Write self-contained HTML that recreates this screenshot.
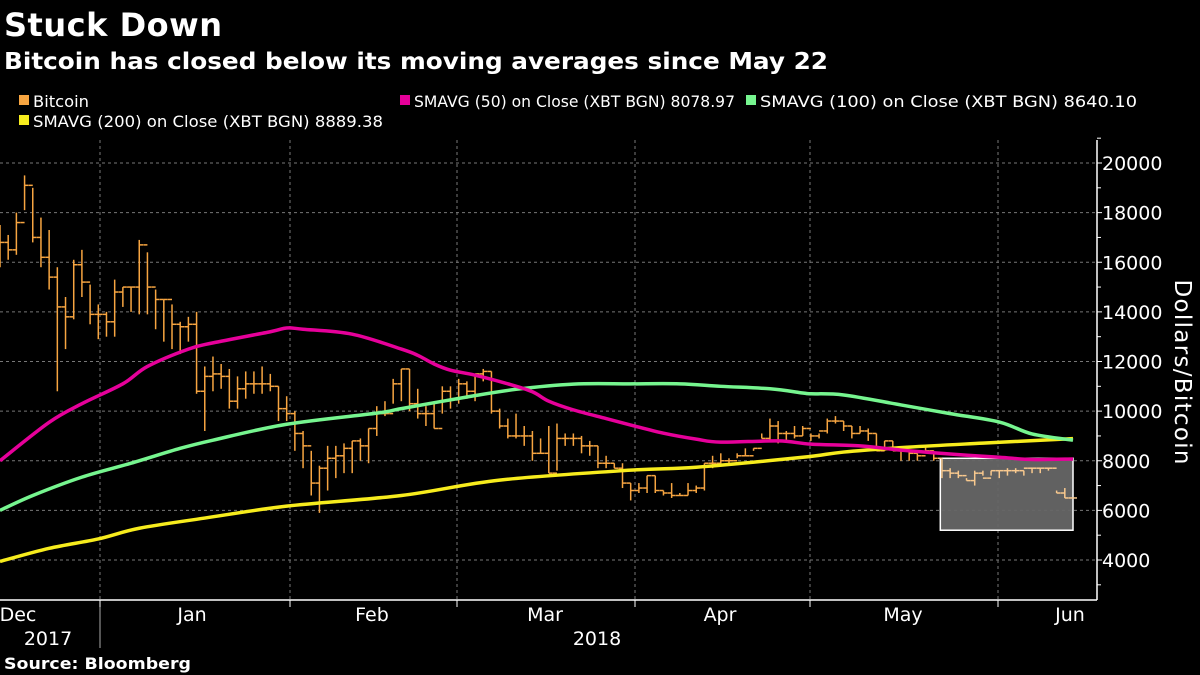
<!DOCTYPE html>
<html><head><meta charset="utf-8"><style>
body{margin:0;background:#000;width:1200px;height:675px;overflow:hidden;font-family:"DejaVu Sans","Liberation Sans",sans-serif;color:#fff}
svg{position:absolute;left:0;top:0}
</style></head><body>
<svg id="chart" width="1200" height="675">
<text x="4" y="36" font-size="32" font-weight="bold" fill="#fff" textLength="218">Stuck Down</text>
<text x="4" y="69" font-size="23" font-weight="bold" fill="#fff" textLength="824" lengthAdjust="spacingAndGlyphs">Bitcoin has closed below its moving averages since May 22</text>
<g font-size="16" fill="#fff">
<g><rect x="19" y="95" width="10" height="10" fill="#f7a541"/><text x="33" y="107" textLength="56" lengthAdjust="spacingAndGlyphs">Bitcoin</text></g>
<g><rect x="400" y="95" width="10" height="10" fill="#e6009a"/><text x="414" y="107" textLength="321" lengthAdjust="spacingAndGlyphs">SMAVG (50) on Close (XBT BGN) 8078.97</text></g>
<g><rect x="746" y="95" width="10" height="10" fill="#76f58f"/><text x="760" y="107" textLength="377" lengthAdjust="spacingAndGlyphs">SMAVG (100) on Close (XBT BGN) 8640.10</text></g>
<g><rect x="19" y="115" width="10" height="10" fill="#f7ec1d"/><text x="33" y="127" textLength="350" lengthAdjust="spacingAndGlyphs">SMAVG (200) on Close (XBT BGN) 8889.38</text></g>
</g>
<g id="grid"></g><g id="box"></g><g id="bars"></g><g id="lines"></g><g id="axes"></g>
<text x="4" y="669" font-size="16" font-weight="bold" fill="#fff" textLength="187" lengthAdjust="spacingAndGlyphs">Source: Bloomberg</text>
</svg>
<script>
const highs=[17500,17100,18000,19500,19000,17800,17300,15800,14600,16100,16500,15100,14300,14000,15300,15000,15000,16900,16400,14900,14500,14300,13600,13800,14000,11800,12200,11900,11700,11400,11600,11600,11800,11500,11000,10600,10000,9200,8400,7800,8600,8600,8700,8800,8900,9300,10200,10400,11300,11700,11700,10900,10200,10300,11000,11000,11300,11200,11500,11700,11600,10100,9700,9900,9400,9200,8900,9400,9500,9100,9100,9000,8800,8600,8200,7900,7900,7100,7100,7400,7400,6800,7100,6700,7100,7000,7900,8200,8300,8100,8300,8500,8500,9100,9700,9600,9200,9400,9400,9100,9100,9700,9800,9600,9400,9400,9300,9100,8800,8800,8400,8400,8300,8600,8400,8100,7700,7600,7300,7600,7600,7600,7600,7700,7700,7600,7700,7700,7700,6800,6900,6500];
const lows=[15800,16100,16300,18100,16800,15800,14900,10800,12500,13700,14600,13500,12900,13000,13000,14200,14000,13900,13900,13300,12800,12500,12300,12800,10700,9200,10800,10900,10100,10100,10500,10700,10700,10800,9600,9600,8400,7700,6600,5900,6800,7300,7500,7500,8000,7900,9000,9800,10300,10400,10000,9700,9400,9300,9900,10100,10300,10500,10400,11200,9900,9300,8900,8900,8600,8000,8300,7500,7600,8600,8600,8300,8200,7700,7700,7700,6900,6400,6700,6700,6700,6600,6500,6600,6600,6700,6800,7700,7800,7800,8100,8200,8400,8900,8800,8700,8800,8900,9000,8800,8900,9100,9500,9200,8900,9100,8800,8400,8400,8400,8000,8000,8000,8300,8000,7300,7300,7300,7200,7000,7400,7400,7300,7400,7500,7400,7500,7500,7600,6700,6500,6500];
const closes=[16800,16500,17600,19100,17000,16200,15400,14200,13800,15900,15200,13900,13900,13600,14800,15000,15000,16700,15000,14500,14500,13500,13400,13500,10800,11400,11500,11400,10400,10900,11100,11100,11100,11000,10100,9900,9100,8600,7100,7700,8100,8200,8500,8800,8600,9300,9900,9900,11100,11700,10300,9900,9900,9300,10800,10500,11100,10800,11500,11600,10000,9400,9000,9000,9000,8300,8300,7500,8900,8900,8900,8600,8600,7900,7900,7700,7100,6800,6900,7400,6800,6700,6600,6600,6800,6900,7900,7900,8000,8000,8200,8200,8500,8900,9400,9100,9100,9000,9300,9000,9200,9600,9600,9400,9100,9200,9100,8400,8800,8400,8400,8300,8200,8400,8100,7600,7500,7400,7200,7500,7300,7600,7600,7600,7600,7700,7700,7700,7700,6700,6500,6500];
const sma50Idx=[0,6,10,15,18,23,26,33,35,37,43,49,51,53,55,58,62,65,67,70,74,77,81,85,88,95,99,105,110,116,122,126,131];
const sma50Val=[8000,9550,10300,11100,11800,12500,12750,13200,13350,13300,13100,12500,12250,11900,11650,11450,11100,10780,10400,10050,9700,9440,9110,8870,8750,8800,8670,8600,8430,8270,8140,8050,8070];
const sma100Idx=[0,4,10,16,22,26,35,46,49,57,63,70,77,83,88,94,98,99,103,110,116,122,126,131];
const sma100Val=[6000,6600,7340,7900,8500,8830,9470,9920,10100,10570,10880,11090,11100,11100,11000,10900,10730,10700,10650,10250,9900,9560,9080,8830];
const sma200Idx=[0,6,12,17,25,35,49,61,77,85,98,103,111,120,131];
const sma200Val=[3940,4470,4850,5280,5690,6170,6600,7220,7620,7740,8140,8350,8550,8710,8890];
const yTicks=[4000,6000,8000,10000,12000,14000,16000,18000,20000];
const months=["Dec","Jan","Feb","Mar","Apr","May","Jun"];
const monthCenters=[18,192,372,545,720,903,1070];
const monthBounds=[100,290,457,635,810,998];
const boxStartIdx=114.8, boxEndIdx=131, boxTop=8100, boxBottom=5200;

const NS="http://www.w3.org/2000/svg";
const N=closes.length, X0=0, X1=1073, AX=1097;
const x=i=>X0+i*(X1-X0)/(N-1);
const y=v=>163+(20000-v)*(560-163)/16000;
function mk(tag,attrs,parent){const e=document.createElementNS(NS,tag);for(const k in attrs)e.setAttribute(k,attrs[k]);parent.appendChild(e);return e;}
const grid=document.getElementById('grid'),axes=document.getElementById('axes'),bars=document.getElementById('bars'),lines=document.getElementById('lines'),box=document.getElementById('box');
yTicks.forEach(v=>{
  const g=mk('line',{x1:0,x2:AX,y1:y(v),y2:y(v),stroke:'#777','stroke-dasharray':'3,3','stroke-width':1},grid);
  
  
  const t=mk('text',{x:AX+5,y:y(v)+7,'font-size':19,fill:'#fff'},axes);t.textContent=v;
  
  
  mk('line',{x1:AX,x2:AX+5,y1:y(v),y2:y(v),stroke:'#fff'},axes);
  mk('line',{x1:AX,x2:AX+4,y1:y(v+1000),y2:y(v+1000),stroke:'#fff'},axes);
});
mk('line',{x1:AX,x2:AX+4,y1:y(3000),y2:y(3000),stroke:'#fff'},axes);
monthBounds.forEach(b=>{
  const g=mk('line',{x1:b,x2:b,y1:140,y2:600,stroke:'#777','stroke-dasharray':'3,3'},grid);
  
  
  mk('line',{x1:b,x2:b,y1:600,y2:607,stroke:'#fff'},axes);
});
months.forEach((m,i)=>{
  const t=mk('text',{x:monthCenters[i],y:621,'font-size':19,fill:'#fff','text-anchor':'middle'},axes);t.textContent=m;
  
  
});
[["2017",48],["2018",597]].forEach(([s,cx])=>{
  const t=mk('text',{x:cx,y:645,'font-size':19,fill:'#fff','text-anchor':'middle'},axes);t.textContent=s;
  
  
});
mk('line',{x1:100,x2:100,y1:607,y2:648,stroke:'#aaa'},axes);
mk('line',{x1:0,x2:AX,y1:600,y2:600,stroke:'#fff','stroke-width':1.5},axes);
mk('line',{x1:AX,x2:AX,y1:140,y2:600,stroke:'#fff','stroke-width':1.5},axes);
const yt=mk('text',{x:0,y:0,'font-size':23,fill:'#fff','text-anchor':'middle',textLength:185,transform:'translate(1175,372) rotate(90)'},axes);
yt.textContent='Dollars/Bitcoin';


const bx=mk('rect',{x:x(boxStartIdx),y:y(boxTop),width:x(boxEndIdx)-x(boxStartIdx),height:y(boxBottom)-y(boxTop),fill:'#666','fill-opacity':0.95,stroke:'#fff','stroke-width':1.5},box);


for(let i=0;i<N;i++){
  const o=i>0?closes[i-1]:closes[i];
  const col=x(i)>=x(boxStartIdx)?'#f9c98e':'#f7a541';
  const g=mk('g',{stroke:col,'stroke-width':1.5},bars);
  
  
  mk('line',{x1:x(i),x2:x(i),y1:y(highs[i]),y2:y(lows[i])},g);
  mk('line',{x1:x(i)-4,x2:x(i),y1:y(o),y2:y(o)},g);
  mk('line',{x1:x(i),x2:x(i)+4,y1:y(closes[i]),y2:y(closes[i])},g);
}
function series(idx,val,color,name){
  const P=idx.map((d,k)=>[x(d),y(val[k])]);
  let d='M'+P[0][0]+','+P[0][1];
  for(let k=0;k<P.length-1;k++){
    const p0=P[Math.max(0,k-1)],p1=P[k],p2=P[k+1],p3=P[Math.min(P.length-1,k+2)];
    const c1=[p1[0]+(p2[0]-p0[0])/6,p1[1]+(p2[1]-p0[1])/6];
    const c2=[p2[0]-(p3[0]-p1[0])/6,p2[1]-(p3[1]-p1[1])/6];
    d+=' C'+c1.join(',')+' '+c2.join(',')+' '+p2.join(',');
  }
  const p=mk('path',{d:d,fill:'none',stroke:color,'stroke-width':3.5,'stroke-linejoin':'round'},lines);
  
  
}
series(sma200Idx,sma200Val,'#f7ec1d','sma200-line');
series(sma100Idx,sma100Val,'#76f58f','sma100-line');
series(sma50Idx,sma50Val,'#e6009a','sma50-line');
</script>
</body></html>
